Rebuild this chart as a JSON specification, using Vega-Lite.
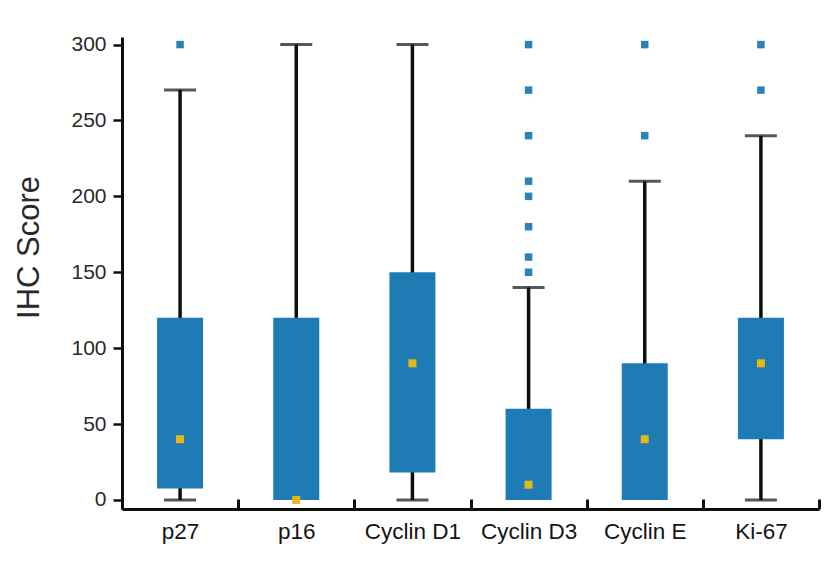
{
  "$schema": "https://vega.github.io/schema/vega-lite/v6.json",
  "width": 697,
  "height": 472,
  "autosize": {"type": "none"},
  "padding": {"left": 122, "top": 37, "right": 20, "bottom": 59},
  "background": "white",
  "config": {
    "view": {"stroke": null},
    "font": "Liberation Sans",
    "axisX": {
      "tickBand": "extent",
      "tickSize": -10,
      "tickWidth": 3,
      "tickColor": "#0f0f0a",
      "domainColor": "#0f0f0a",
      "domainWidth": 3,
      "labelFontSize": 22.5,
      "labelColor": "#141414",
      "labelPadding": 21,
      "labelAngle": 0,
      "grid": false
    },
    "axisY": {
      "tickSize": 9,
      "tickWidth": 2.5,
      "tickColor": "#0f0f0a",
      "domainColor": "#0f0f0a",
      "domainWidth": 3,
      "labelFontSize": 21,
      "labelColor": "#2a2a2a",
      "labelPadding": 7,
      "grid": false,
      "titleFont": "Liberation Sans Narrow, Liberation Sans, sans-serif",
      "titleFontSize": 31,
      "titleFontWeight": "normal",
      "titleColor": "#2a2a2a",
      "titleX": -93,
      "titleY": 210,
      "titleAlign": "center",
      "titleBaseline": "middle",
      "titleAngle": -90
    }
  },
  "datasets": {
    "stats": [
      {"marker": "p27", "lower": 0, "q1": 7.5, "median": 40, "q3": 120, "upper": 270},
      {"marker": "p16", "lower": 0, "q1": 0, "median": 0, "q3": 120, "upper": 300},
      {"marker": "Cyclin D1", "lower": 0, "q1": 18, "median": 90, "q3": 150, "upper": 300},
      {"marker": "Cyclin D3", "lower": 0, "q1": 0, "median": 10, "q3": 60, "upper": 140},
      {"marker": "Cyclin E", "lower": 0, "q1": 0, "median": 40, "q3": 90, "upper": 210},
      {"marker": "Ki-67", "lower": 0, "q1": 40, "median": 90, "q3": 120, "upper": 240}
    ],
    "outliers": [
      {"marker": "p27", "score": 300},
      {"marker": "Cyclin D3", "score": 150},
      {"marker": "Cyclin D3", "score": 160},
      {"marker": "Cyclin D3", "score": 180},
      {"marker": "Cyclin D3", "score": 200},
      {"marker": "Cyclin D3", "score": 210},
      {"marker": "Cyclin D3", "score": 240},
      {"marker": "Cyclin D3", "score": 270},
      {"marker": "Cyclin D3", "score": 300},
      {"marker": "Cyclin E", "score": 240},
      {"marker": "Cyclin E", "score": 300},
      {"marker": "Ki-67", "score": 270},
      {"marker": "Ki-67", "score": 300}
    ]
  },
  "layer": [
    {
      "data": {"name": "stats"},
      "mark": {"type": "rule", "color": "#0f0f0a", "strokeWidth": 3.5},
      "encoding": {
        "x": {"field": "marker", "type": "nominal", "title": null, "sort": ["p27", "p16", "Cyclin D1", "Cyclin D3", "Cyclin E", "Ki-67"], "scale": {"paddingInner": 0, "paddingOuter": 0}},
        "y": {"field": "lower", "type": "quantitative", "title": "IHC Score", "scale": {"domain": [-6, 305], "nice": false, "zero": false}, "axis": {"values": [0, 50, 100, 150, 200, 250, 300]}},
        "y2": {"field": "upper"}
      }
    },
    {
      "data": {"name": "stats"},
      "mark": {"type": "tick", "size": 32, "thickness": 3, "color": "#0f0f0a"},
      "encoding": {
        "x": {"field": "marker", "type": "nominal", "title": null, "sort": ["p27", "p16", "Cyclin D1", "Cyclin D3", "Cyclin E", "Ki-67"], "scale": {"paddingInner": 0, "paddingOuter": 0}},
        "y": {"field": "upper", "type": "quantitative", "title": "IHC Score", "scale": {"domain": [-6, 305], "nice": false, "zero": false}, "axis": {"values": [0, 50, 100, 150, 200, 250, 300]}}
      }
    },
    {
      "data": {"name": "stats"},
      "transform": [{"filter": "datum.lower < datum.q1"}],
      "mark": {"type": "tick", "size": 32, "thickness": 3, "color": "#0f0f0a"},
      "encoding": {
        "x": {"field": "marker", "type": "nominal", "title": null, "sort": ["p27", "p16", "Cyclin D1", "Cyclin D3", "Cyclin E", "Ki-67"], "scale": {"paddingInner": 0, "paddingOuter": 0}},
        "y": {"field": "lower", "type": "quantitative", "title": "IHC Score", "scale": {"domain": [-6, 305], "nice": false, "zero": false}, "axis": {"values": [0, 50, 100, 150, 200, 250, 300]}}
      }
    },
    {
      "data": {"name": "stats"},
      "mark": {"type": "bar", "size": 46, "color": "#1e7bb3"},
      "encoding": {
        "x": {"field": "marker", "type": "nominal", "title": null, "sort": ["p27", "p16", "Cyclin D1", "Cyclin D3", "Cyclin E", "Ki-67"], "scale": {"paddingInner": 0, "paddingOuter": 0}},
        "y": {"field": "q1", "type": "quantitative", "title": "IHC Score", "scale": {"domain": [-6, 305], "nice": false, "zero": false}, "axis": {"values": [0, 50, 100, 150, 200, 250, 300]}},
        "y2": {"field": "q3"}
      }
    },
    {
      "data": {"name": "stats"},
      "mark": {"type": "square", "size": 64, "filled": true, "opacity": 1, "color": "#e2b81c"},
      "encoding": {
        "x": {"field": "marker", "type": "nominal", "title": null, "sort": ["p27", "p16", "Cyclin D1", "Cyclin D3", "Cyclin E", "Ki-67"], "scale": {"paddingInner": 0, "paddingOuter": 0}},
        "y": {"field": "median", "type": "quantitative", "title": "IHC Score", "scale": {"domain": [-6, 305], "nice": false, "zero": false}, "axis": {"values": [0, 50, 100, 150, 200, 250, 300]}}
      }
    },
    {
      "data": {"name": "outliers"},
      "mark": {"type": "square", "size": 56, "filled": true, "opacity": 0.95, "color": "#1f7bb5"},
      "encoding": {
        "x": {"field": "marker", "type": "nominal", "title": null, "sort": ["p27", "p16", "Cyclin D1", "Cyclin D3", "Cyclin E", "Ki-67"], "scale": {"paddingInner": 0, "paddingOuter": 0}},
        "y": {"field": "score", "type": "quantitative", "title": "IHC Score", "scale": {"domain": [-6, 305], "nice": false, "zero": false}, "axis": {"values": [0, 50, 100, 150, 200, 250, 300]}}
      }
    }
  ]
}
